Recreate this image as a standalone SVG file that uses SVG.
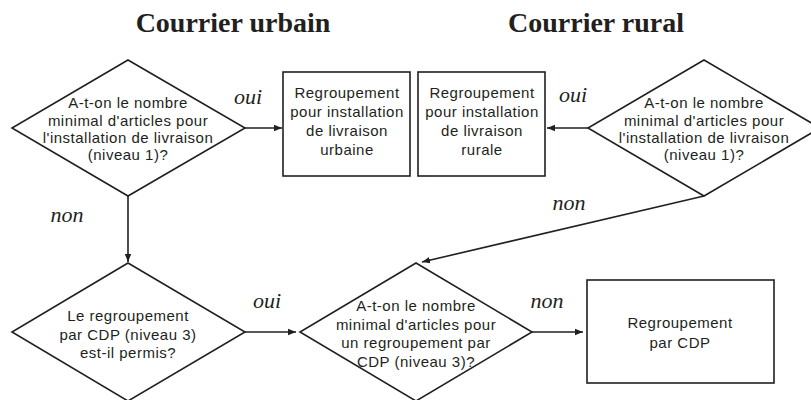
<svg xmlns="http://www.w3.org/2000/svg" width="811" height="400" viewBox="0 0 811 400">
<defs>
<style>
.shape{fill:#fff;stroke:#231f20;stroke-width:1.6}
.lbl{font-family:"Liberation Sans",Arial,sans-serif;font-size:15px;letter-spacing:0.5px;fill:#231f20;text-anchor:middle}
.hdr{font-family:"Liberation Serif","Times New Roman",serif;font-size:28px;font-weight:bold;fill:#231f20;text-anchor:middle}
.ed{font-family:"Liberation Serif","Times New Roman",serif;font-size:22px;font-style:italic;fill:#231f20;text-anchor:middle}
.conn{fill:none;stroke:#231f20;stroke-width:1.6}
</style>
<marker id="ah" viewBox="0 0 10 10" refX="10" refY="5" markerWidth="5" markerHeight="5" markerUnits="strokeWidth" orient="auto">
<path d="M0,1 L10,5 L0,9 Z" fill="#231f20"/>
</marker>
</defs>
<rect width="811" height="400" fill="#fff"/>
<text class="hdr" x="233" y="32">Courrier urbain</text>
<text class="hdr" x="596" y="32">Courrier rural</text>

<g id="connectors">
<line class="conn" x1="245" y1="128" x2="282" y2="128" marker-end="url(#ah)"/>
<line class="conn" x1="588" y1="128" x2="547" y2="128" marker-end="url(#ah)"/>
<line class="conn" x1="128" y1="196" x2="128" y2="262" marker-end="url(#ah)"/>
<line class="conn" x1="704" y1="196" x2="422" y2="262" marker-end="url(#ah)"/>
<line class="conn" x1="245" y1="332" x2="296" y2="332" marker-end="url(#ah)"/>
<line class="conn" x1="532" y1="332" x2="583" y2="332" marker-end="url(#ah)"/>
<text class="ed" x="248" y="104">oui</text>
<text class="ed" x="573" y="102">oui</text>
<text class="ed" x="67" y="222">non</text>
<text class="ed" x="569" y="210">non</text>
<text class="ed" x="267" y="308">oui</text>
<text class="ed" x="547" y="308">non</text>
</g>

<g id="d_urbain">
<polygon class="shape" points="128,60 245,128 128,196 12,128"/>
<text class="lbl" x="128" y="108">A-t-on le nombre</text>
<text class="lbl" x="128" y="126">minimal d'articles pour</text>
<text class="lbl" x="128" y="143">l'installation de livraison</text>
<text class="lbl" x="128" y="160">(niveau 1)?</text>
</g>

<g id="b_urbain">
<rect class="shape" x="283" y="72" width="127" height="104"/>
<text class="lbl" x="347" y="98">Regroupement</text>
<text class="lbl" x="347" y="117">pour installation</text>
<text class="lbl" x="347" y="136">de livraison</text>
<text class="lbl" x="347" y="155">urbaine</text>
</g>

<g id="b_rural">
<rect class="shape" x="418" y="72" width="127" height="104"/>
<text class="lbl" x="482" y="98">Regroupement</text>
<text class="lbl" x="482" y="117">pour installation</text>
<text class="lbl" x="482" y="136">de livraison</text>
<text class="lbl" x="482" y="155">rurale</text>
</g>

<g id="d_rural">
<polygon class="shape" points="704,60 820,128 704,196 588,128"/>
<text class="lbl" x="704" y="108">A-t-on le nombre</text>
<text class="lbl" x="704" y="126">minimal d'articles pour</text>
<text class="lbl" x="704" y="143">l'installation de livraison</text>
<text class="lbl" x="704" y="160">(niveau 1)?</text>
</g>

<g id="d_permis">
<polygon class="shape" points="128,263 245,332 128,401 12,332"/>
<text class="lbl" x="128" y="321">Le regroupement</text>
<text class="lbl" x="128" y="340">par CDP (niveau 3)</text>
<text class="lbl" x="128" y="358">est-il permis?</text>
</g>

<g id="d_cdp">
<polygon class="shape" points="416,263 532,332 416,401 300,332"/>
<text class="lbl" x="416" y="311">A-t-on le nombre</text>
<text class="lbl" x="416" y="330">minimal d'articles pour</text>
<text class="lbl" x="416" y="348">un regroupement par</text>
<text class="lbl" x="416" y="367">CDP (niveau 3)?</text>
</g>

<g id="b_cdp">
<rect class="shape" x="587" y="280" width="187" height="103"/>
<text class="lbl" x="680" y="328">Regroupement</text>
<text class="lbl" x="680" y="348">par CDP</text>
</g>
</svg>
